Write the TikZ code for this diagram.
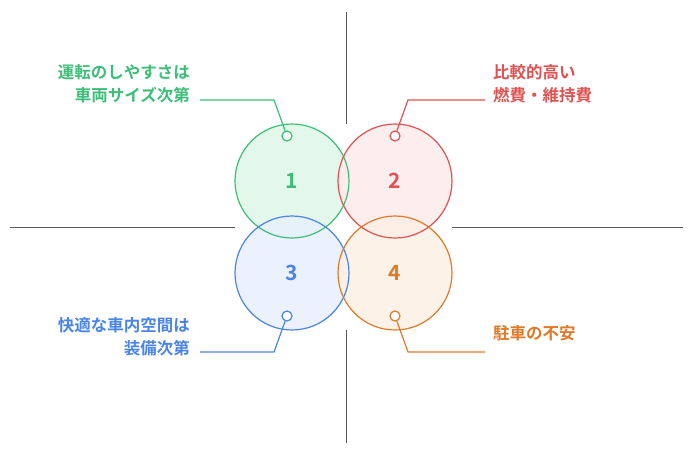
\documentclass[tikz,border=0pt]{standalone}
\usepackage{fontspec}
\newfontfamily\cjk[BoldFont={Noto Sans CJK JP Bold}]{Noto Sans CJK JP}
\definecolor{cg}{HTML}{3DBE78}\definecolor{fg}{HTML}{E3F8EB}
\definecolor{cr}{HTML}{E05252}\definecolor{fr}{HTML}{FDEBEB}
\definecolor{cb}{HTML}{4A84E6}\definecolor{fb}{HTML}{E8F0FD}
\definecolor{co}{HTML}{E0792A}\definecolor{fo}{HTML}{FDF0E3}
\begin{document}
\begin{tikzpicture}[x=1pt,y=-1pt,
  big/.style={circle,minimum size=114pt,inner sep=0pt,line width=1.2pt,font=\cjk\bfseries\fontsize{21}{21}\selectfont},
  dot/.style={circle,minimum size=10pt,inner sep=0pt,line width=1.2pt,fill=white},
  lab/.style={font=\cjk\bfseries\fontsize{16.5}{23}\selectfont,inner sep=0pt},
  ax/.style={draw=gray!70!black,line width=0.8pt}]
\useasboundingbox (0,0) rectangle (692,459);
\coordinate (t) at (346,12); \coordinate (t2) at (346,124);
\coordinate (b) at (346,443); \coordinate (b2) at (346,330);
\coordinate (l) at (10,227); \coordinate (l2) at (235,227);
\coordinate (r) at (683,227); \coordinate (r2) at (452,227);
\draw[ax] (t)--(t2); \draw[ax] (b)--(b2); \draw[ax] (l)--(l2); \draw[ax] (r)--(r2);
\fill[fg] (292,181) circle[radius=57pt]; \fill[fr,opacity=.85] (395,181) circle[radius=57pt];
\fill[fb,opacity=.85] (292,273) circle[radius=57pt]; \fill[fo,opacity=.85] (395,273) circle[radius=57pt];
\node[big,draw=cg,text=cg] (c1) at (292,181) {1};
\node[big,draw=cr,text=cr] (c2) at (395,181) {2};
\node[big,draw=cb,text=cb] (c3) at (292,273) {3};
\node[big,draw=co,text=co] (c4) at (395,273) {4};
\node[dot,draw=cg] (d1) at (287,136) {};
\node[dot,draw=cr] (d2) at (395,136) {};
\node[dot,draw=cb] (d3) at (287,316) {};
\node[dot,draw=co] (d4) at (395,316) {};
\coordinate (e1) at (200,100); \coordinate (e2) at (485,100);
\coordinate (e3) at (200,352); \coordinate (e4) at (485,352);
\draw[cg,line width=1.2pt] (d1)--(274,100)--(e1);
\draw[cr,line width=1.2pt] (d2)--(408,100)--(e2);
\draw[cb,line width=1.2pt] (d3)--(274,352)--(e3);
\draw[co,line width=1.2pt] (d4)--(408,352)--(e4);
\node[lab,text=cg,align=right,anchor=east] (t1) at (190,84) {運転のしやすさは\\車両サイズ次第};
\node[lab,text=cr,align=left,anchor=west] (t2) at (493,84) {比較的高い\\燃費・維持費};
\node[lab,text=cb,align=right,anchor=east] (t3) at (190,337) {快適な車内空間は\\装備次第};
\node[lab,text=co,anchor=west] (t4) at (493,333) {駐車の不安};
\end{tikzpicture}
\end{document}
